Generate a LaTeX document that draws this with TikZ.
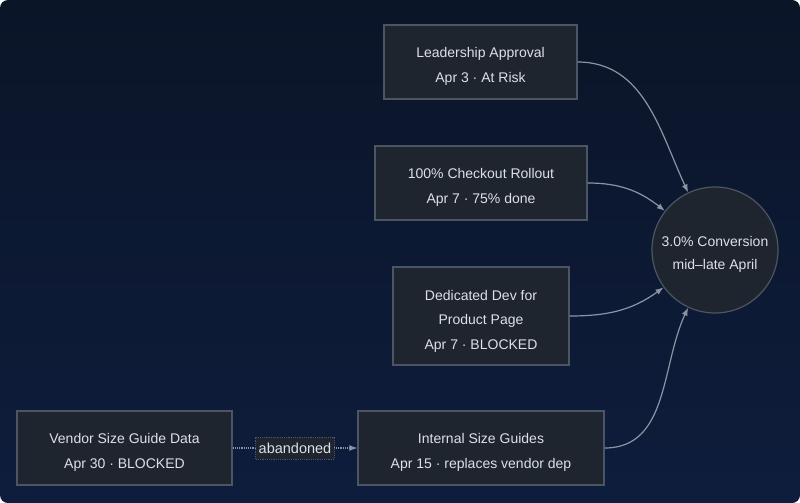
\documentclass[tikz,border=0pt]{standalone}
\usepackage{fontspec}
\setmainfont{Liberation Sans}
\usetikzlibrary{arrows.meta,positioning,shapes.geometric}
\usepackage{xcolor}

\definecolor{bgtop}{HTML}{0B1528}
\definecolor{bgbot}{HTML}{0E1D3D}
\definecolor{boxfill}{HTML}{1E252F}
\definecolor{boxline}{HTML}{4C5563}
\definecolor{boxtext}{HTML}{DDE1E6}
\definecolor{linkcol}{HTML}{8A94A3}

\begin{document}
\begin{tikzpicture}[
        x=1pt, y=-1pt,
    % caixas das dependencias
        task/.style={rectangle, draw=boxline, fill=boxfill, line width=1.2pt, align=center, text=boxtext, font=\fontsize{14}{24.5}\selectfont, minimum height=74pt, inner sep=4pt, text height=40pt, text depth=0pt},
    % meta final (circulo)
        goal/.style={circle, draw=boxline, fill=boxfill, line width=1.2pt, align=center, text=boxtext, font=\fontsize{14}{23}\selectfont, minimum size=126pt, inner sep=0pt, text height=38pt, text depth=0pt},
        tag/.style={rectangle, draw=boxline, fill=boxfill, line width=0.8pt, text=boxtext, font=\fontsize{14.5}{16}\selectfont, inner xsep=3pt, inner ysep=2pt, minimum height=22pt},
        link/.style={-{Latex[length=8pt,width=6pt]}, draw=linkcol, line width=1.2pt}
    ]
        % --- FUNDO ---
        \useasboundingbox (0,0) rectangle (800,503);
        \fill[white] (0,0) rectangle (800,503);
        \shade[top color=bgtop, bottom color=bgbot, rounded corners=8pt] (0,0) rectangle (800,503);

        % --- COLUNA CENTRAL ---
        \node[task, minimum width=193pt] (approval) at (480.5,62) {Leadership Approval\\ Apr 3 · At Risk};
        \node[task, minimum width=212pt] (rollout) at (481,183) {100\% Checkout Rollout\\ Apr 7 · 75\% done};
        \node[task, minimum width=176pt, minimum height=98pt, text height=66pt] (devpage) at (481,316) {Dedicated Dev for\\ Product Page\\ Apr 7 · BLOCKED};
        \node[task, minimum width=246pt] (internal) at (481,448) {Internal Size Guides\\ Apr 15 · replaces vendor dep};

        % --- ESQUERDA ---
        \node[task, minimum width=215pt] (vendor) at (124.5,448) {Vendor Size Guide Data\\ Apr 30 · BLOCKED};

        % --- META ---
        \node[goal] (target) at (715,250) {3.0\% Conversion\\ mid–late April};

        % --- LIGACOES ---
        \draw[link, densely dotted] (vendor.east) -- node[tag] {abandoned} (internal.west);

        \draw[link] (approval.east) to[out=0, in=115] (target.115);
        \draw[link] (rollout.east) to[out=0, in=142] (target.142);
        \draw[link] (devpage.east) to[out=0, in=216] (target.216);
        \draw[link] (internal.east) to[out=0, in=245] (target.245);
\end{tikzpicture}
\end{document}
